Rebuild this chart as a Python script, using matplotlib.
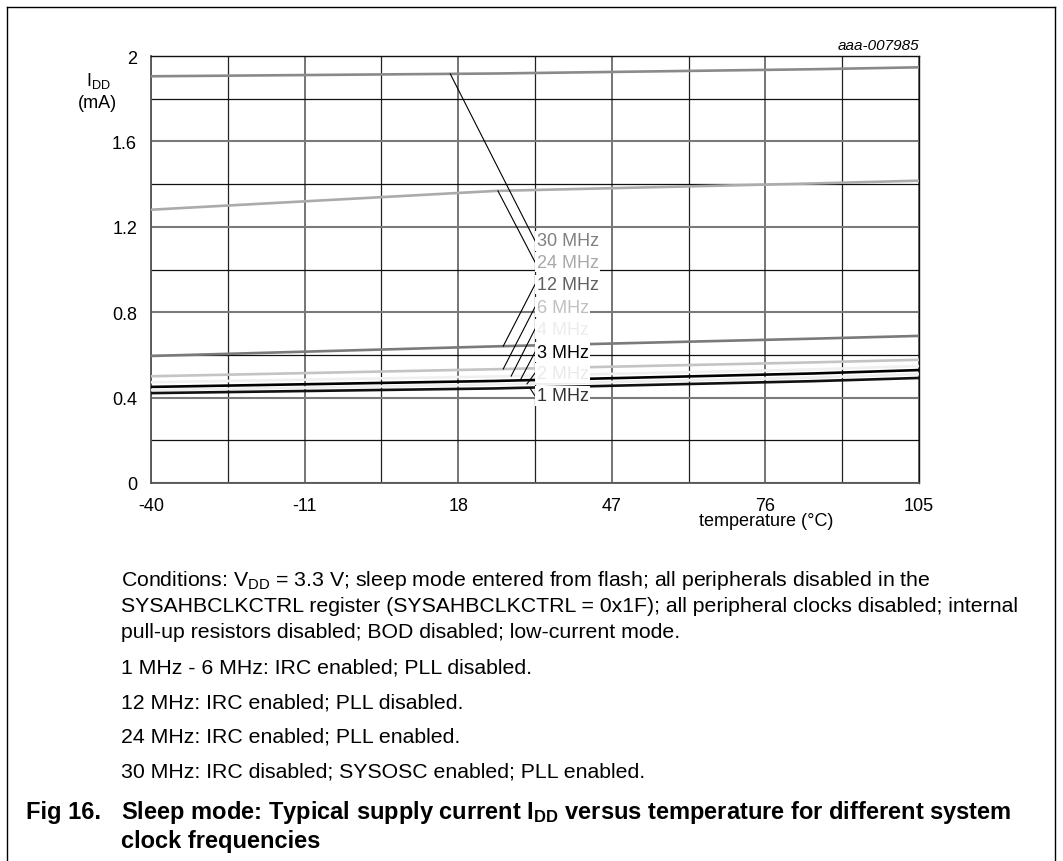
import numpy as np
import matplotlib
matplotlib.use("Agg")
import matplotlib.pyplot as plt
from matplotlib.lines import Line2D

plt.rcParams['font.family'] = ['Liberation Sans', 'DejaVu Sans']
plt.rcParams['mathtext.fontset'] = 'custom'
plt.rcParams['mathtext.rm'] = 'Liberation Sans'
plt.rcParams['mathtext.it'] = 'Liberation Sans:italic'
plt.rcParams['mathtext.bf'] = 'Liberation Sans:bold'

# ---- data ----
temps = [-40, 25, 85, 105]
series_names = ["30 MHz", "24 MHz", "12 MHz", "6 MHz", "4 MHz", "3 MHz", "2 MHz", "1 MHz"]
idd_30 = [1.905, 1.918, 1.938, 1.947]
idd_24 = [1.280, 1.368, 1.403, 1.416]
idd_12 = [0.595, 0.640, 0.676, 0.689]
idd_6 = [0.500, 0.533, 0.565, 0.577]
idd_4 = [0.472, 0.499, 0.532, 0.548]
idd_3 = [0.450, 0.478, 0.513, 0.529]
idd_2 = [0.435, 0.461, 0.494, 0.510]
idd_1 = [0.421, 0.443, 0.477, 0.492]
series_values = [idd_30, idd_24, idd_12, idd_6, idd_4, idd_3, idd_2, idd_1]

x_ticks = [-40, -11, 18, 47, 76, 105]
y_ticks = [0, 0.4, 0.8, 1.2, 1.6, 2]
y_tick_labels = ["0", "0.4", "0.8", "1.2", "1.6", "2"]

# ---- styles ----
line_colors = ['#8a8a8a', '#ababab', '#7a7a7a', '#c4c4c4', '#f0f0f0', '#000000', '#eeeeee', '#111111']
label_colors = ['#808080', '#a8a8a8', '#606060', '#c0c0c0', '#ececec', '#000000', '#eaeaea', '#333333']
leader_start_x = [16.5, 25.5, 26.5, 26.5, 28.0, 29.7, 31.0, 31.5]
label_y = [1.135, 1.035, 0.930, 0.824, 0.721, 0.613, 0.515, 0.408]
label_x = 32.5

W, H = 1063, 862
fig = plt.figure(figsize=(W / 100, H / 100), dpi=100)

def fx(px):
    return px / W

def fy(py):
    return 1 - py / H

ax_l, ax_r, ax_t, ax_b = 151, 919, 57, 484
ax = fig.add_axes([fx(ax_l), fy(ax_b), fx(ax_r - ax_l), (ax_b - ax_t) / H])
ax.set_xlim(-40, 105)
ax.set_ylim(0, 2)

# grid
for xv in np.arange(-40, 105.1, 14.5):
    major = abs(((xv + 40) / 29) - round((xv + 40) / 29)) < 1e-6
    ax.axvline(xv, color='#6a6a6a' if major else '#222222', lw=1.3 if major else 0.9, zorder=1)
for yv in np.arange(0, 2.01, 0.2):
    major = abs((yv / 0.4) - round(yv / 0.4)) < 1e-6
    ax.axhline(yv, color='#7a7a7a' if major else '#111111', lw=1.5 if major else 0.9, zorder=1)

for sp in ['top', 'right']:
    ax.spines[sp].set_color('#111111')
    ax.spines[sp].set_linewidth(1.0)
for sp in ['left', 'bottom']:
    ax.spines[sp].set_color('#555555')
    ax.spines[sp].set_linewidth(1.3)

ax.set_xticks(x_ticks)
ax.set_xticklabels([str(v) for v in x_ticks])
ax.set_yticks(y_ticks)
ax.set_yticklabels(y_tick_labels)
ax.tick_params(axis='both', length=0, labelsize=13, colors='black')
ax.tick_params(axis='y', pad=10)
ax.tick_params(axis='x', pad=10)

# curves
for vals, col in zip(series_values, line_colors):
    ax.plot(temps, vals, color=col, lw=1.9, solid_capstyle='butt', zorder=3)

# leader lines and labels
for name, vals, sx, ly, lc in zip(series_names, series_values, leader_start_x, label_y, label_colors):
    sy = np.interp(sx, temps, vals)
    ax.plot([sx, label_x], [sy, ly], color='black', lw=0.8, zorder=4)
    ax.text(label_x + 0.3, ly, name, color=lc, fontsize=13, ha='left', va='center', zorder=5,
            bbox=dict(boxstyle='square,pad=0.08', facecolor='white', edgecolor='none'))

# axis annotations
fig.text(fx(98), fy(81), r'I$_{\mathrm{DD}}$', fontsize=13, ha='center', va='center')
fig.text(fx(97), fy(103), '(mA)', fontsize=13, ha='center', va='center')
fig.text(fx(919), fy(46), 'aaa-007985', fontsize=11, style='italic', ha='right', va='center')
fig.text(fx(766), fy(522), 'temperature (°C)', fontsize=13, ha='center', va='center')

# conditions text
cond_lines = [
    (581, r'Conditions: V$_{\mathrm{DD}}$ = 3.3 V; sleep mode entered from flash; all peripherals disabled in the'),
    (607, 'SYSAHBCLKCTRL register (SYSAHBCLKCTRL = 0x1F); all peripheral clocks disabled; internal'),
    (633, 'pull-up resistors disabled; BOD disabled; low-current mode.'),
    (668, '1 MHz - 6 MHz: IRC enabled; PLL disabled.'),
    (703, '12 MHz: IRC enabled; PLL disabled.'),
    (737, '24 MHz: IRC enabled; PLL enabled.'),
    (772, '30 MHz: IRC disabled; SYSOSC enabled; PLL enabled.'),
]
for py, txt in cond_lines:
    fig.text(fx(121), fy(py), txt, fontsize=15.3, ha='left', va='center')

fig.text(fx(26), fy(813), 'Fig 16.', fontsize=17, fontweight='bold', ha='left', va='center')
fig.text(fx(121), fy(813), r'Sleep mode: Typical supply current I$_{\mathbf{DD}}$ versus temperature for different system',
         fontsize=17, fontweight='bold', ha='left', va='center')
fig.text(fx(121), fy(842), 'clock frequencies', fontsize=17, fontweight='bold', ha='left', va='center')

# page frame
fig.add_artist(Line2D([fx(7), fx(7)], [0, fy(8)], transform=fig.transFigure, color='black', lw=1.0))
fig.add_artist(Line2D([fx(1055), fx(1055)], [0, fy(8)], transform=fig.transFigure, color='black', lw=1.0))
fig.add_artist(Line2D([fx(7), fx(1055)], [fy(8), fy(8)], transform=fig.transFigure, color='black', lw=1.0))

fig.savefig('out.png', dpi=100)
